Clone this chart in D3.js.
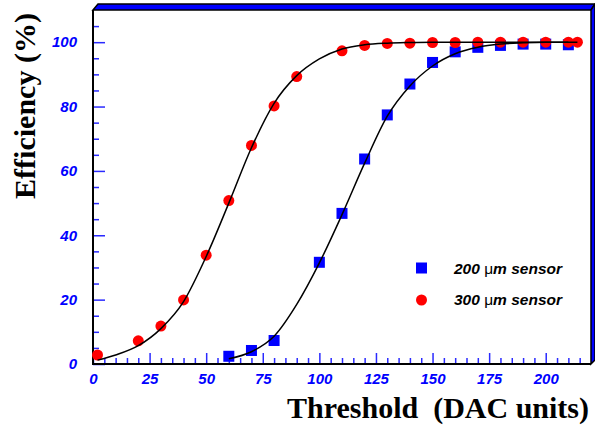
<!DOCTYPE html>
<html>
<head>
<meta charset="utf-8">
<script src="https://cdn.jsdelivr.net/npm/d3@7"></script>
<style>
  body { margin: 0; background: #fff; }
  svg { display: block; }
</style>
</head>
<body>
<div id="wrapper"></div>
<script>
// measured points, 300 um sensor (red circles)
const thr300 = [2, 20, 30, 40, 50, 60, 70, 80, 90, 110, 120, 130, 140, 150, 160, 170, 180, 190, 200, 210, 214];
const eff300 = [2.8, 7.2, 11.8, 19.9, 33.8, 50.8, 67.9, 80.2, 89.3, 97.3, 99.0, 99.6, 99.7, 99.9, 99.9, 100, 100, 100, 100, 100, 100];

// measured points, 200 um sensor (blue squares)
const thr200 = [60, 70, 80, 100, 110, 120, 130, 140, 150, 160, 170, 180, 190, 200, 210];
const eff200 = [2.4, 4.2, 7.3, 31.6, 46.8, 63.7, 77.4, 87.0, 93.7, 97.0, 98.4, 99.0, 99.4, 99.4, 99.2];

// fit curves
const fitX300 = [2, 10, 20, 30, 40, 50, 60, 70, 80, 90, 100, 110, 120, 130, 140, 150, 170, 190, 214];
const fitY300 = [1.2, 2.8, 5.7, 11.0, 19.4, 33.4, 50.0, 67.2, 81.0, 89.6, 94.8, 97.9, 99.2, 99.7, 99.9, 100, 100, 100, 100];
const fitX200 = [60, 70, 80, 90, 100, 110, 120, 130, 140, 150, 160, 170, 180, 190, 200, 210];
const fitY200 = [1.6, 3.8, 8.6, 18.5, 31.4, 46.4, 62.4, 77.0, 86.4, 92.6, 96.4, 98.4, 99.4, 99.8, 100, 100];

const xMajor = [0, 25, 50, 75, 100, 125, 150, 175, 200];
const yMajor = [0, 20, 40, 60, 80, 100];

const legendLabels = ["200", "300"];

const width = 595;
const height = 429;
const frame = { left: 93, right: 591, top: 10, bottom: 364 };

const svg = d3.select("#wrapper")
  .append("svg")
  .attr("width", width)
  .attr("height", height);

const xScale = d3.scaleLinear()
  .domain([0, 220])
  .range([frame.left, frame.right]);
const yScale = d3.scaleLinear()
  .domain([0, 110])
  .range([frame.bottom, frame.top]);

const tickColor = "#2a2aff";
const labelFont = "'Liberation Sans', Arial, sans-serif";
const titleFont = "'Liberation Serif', 'Times New Roman', serif";

// 3D frame border (ROOT style)
svg.append("polygon")
  .attr("points", [[frame.left, frame.top], [frame.left + 5, frame.top - 6], [frame.right + 4, frame.top - 6], [frame.right, frame.top]].join(" "))
  .attr("fill", "#0000ff")
  .attr("stroke", "#000")
  .attr("stroke-width", 1.5);
svg.append("polygon")
  .attr("points", [[frame.right, frame.top], [frame.right + 4, frame.top - 6], [frame.right + 4, frame.bottom - 4], [frame.right, frame.bottom]].join(" "))
  .attr("fill", "#0000ff")
  .attr("stroke", "#000")
  .attr("stroke-width", 1.5);

// minor ticks
const xMinor = d3.range(0, 220, 5).filter(v => v % 25 !== 0);
const yMinor = d3.range(0, 110, 5).filter(v => v % 20 !== 0);

function styleAxis(g) {
  g.select(".domain").remove();
  g.selectAll(".tick line").attr("stroke", tickColor).attr("stroke-width", 1.5);
  g.selectAll(".tick text")
    .attr("fill", "#0000ff")
    .style("font-family", labelFont)
    .style("font-size", "15px")
    .style("font-weight", "bold")
    .style("font-style", "italic");
}

svg.append("g")
  .attr("transform", `translate(0,${frame.bottom})`)
  .call(d3.axisBottom(xScale).tickValues(xMinor).tickSize(-6).tickFormat(""))
  .call(styleAxis);
svg.append("g")
  .attr("transform", `translate(0,${frame.bottom})`)
  .call(d3.axisBottom(xScale).tickValues(xMajor).tickSize(-11).tickPadding(9).tickFormat(d3.format("d")))
  .call(styleAxis);

svg.append("g")
  .attr("transform", `translate(${frame.left},0)`)
  .call(d3.axisLeft(yScale).tickValues(yMinor).tickSize(-6).tickFormat(""))
  .call(styleAxis);
svg.append("g")
  .attr("transform", `translate(${frame.left},0)`)
  .call(d3.axisLeft(yScale).tickValues(yMajor).tickSize(-12).tickPadding(16).tickFormat(d3.format("d")))
  .call(styleAxis);

// frame left and bottom lines
svg.append("path")
  .attr("d", `M${frame.left},${frame.top}V${frame.bottom}H${frame.right}`)
  .attr("fill", "none")
  .attr("stroke", "#000")
  .attr("stroke-width", 2);

// markers
const data200 = thr200.map((t, i) => ({ x: t, y: eff200[i] }));
const data300 = thr300.map((t, i) => ({ x: t, y: eff300[i] }));
const sq = 11;

svg.append("g")
  .selectAll("rect")
  .data(data200)
  .enter()
  .append("rect")
  .attr("x", d => xScale(d.x) - sq / 2)
  .attr("y", d => yScale(d.y) - sq / 2)
  .attr("width", sq)
  .attr("height", sq)
  .attr("fill", "#0000ff");

svg.append("g")
  .selectAll("circle")
  .data(data300)
  .enter()
  .append("circle")
  .attr("cx", d => xScale(d.x))
  .attr("cy", d => yScale(d.y))
  .attr("r", 5.5)
  .attr("fill", "#ff0000");

// fit curves
const line = d3.line()
  .x(d => xScale(d[0]))
  .y(d => yScale(d[1]))
  .curve(d3.curveMonotoneX);

svg.append("path")
  .attr("d", line(fitX300.map((v, i) => [v, fitY300[i]])))
  .attr("fill", "none")
  .attr("stroke", "#000")
  .attr("stroke-width", 1.5);
svg.append("path")
  .attr("d", line(fitX200.map((v, i) => [v, fitY200[i]])))
  .attr("fill", "none")
  .attr("stroke", "#000")
  .attr("stroke-width", 1.5);

// legend
const legend = svg.append("g");
legend.append("rect")
  .attr("x", 421.5 - sq / 2)
  .attr("y", 268 - sq / 2)
  .attr("width", sq)
  .attr("height", sq)
  .attr("fill", "#0000ff");
legend.append("circle")
  .attr("cx", 421.5)
  .attr("cy", 300)
  .attr("r", 5.5)
  .attr("fill", "#ff0000");

legendLabels.forEach((lab, i) => {
  const t = legend.append("text")
    .attr("x", 454)
    .attr("y", 274 + i * 31)
    .attr("fill", "#000")
    .style("white-space", "pre")
    .style("font-family", labelFont)
    .style("font-size", "15.5px")
    .style("font-weight", "bold")
    .style("font-style", "italic");
  t.append("tspan").text(lab + " ");
  t.append("tspan").style("font-style", "normal").style("font-weight", "normal").text("\u03bc");
  t.append("tspan").text("m sensor");
});

// axis titles
svg.append("text")
  .attr("x", 589)
  .attr("y", 418)
  .attr("text-anchor", "end")
  .style("white-space", "pre")
  .style("font-family", titleFont)
  .style("font-size", "30px")
  .style("font-weight", "bold")
  .text("Threshold  (DAC units)");

svg.append("text")
  .attr("transform", "translate(35,106) rotate(-90)")
  .attr("text-anchor", "middle")
  .style("font-family", titleFont)
  .style("font-size", "30px")
  .style("font-weight", "bold")
  .text("Efficiency (%)");
</script>
</body>
</html>
